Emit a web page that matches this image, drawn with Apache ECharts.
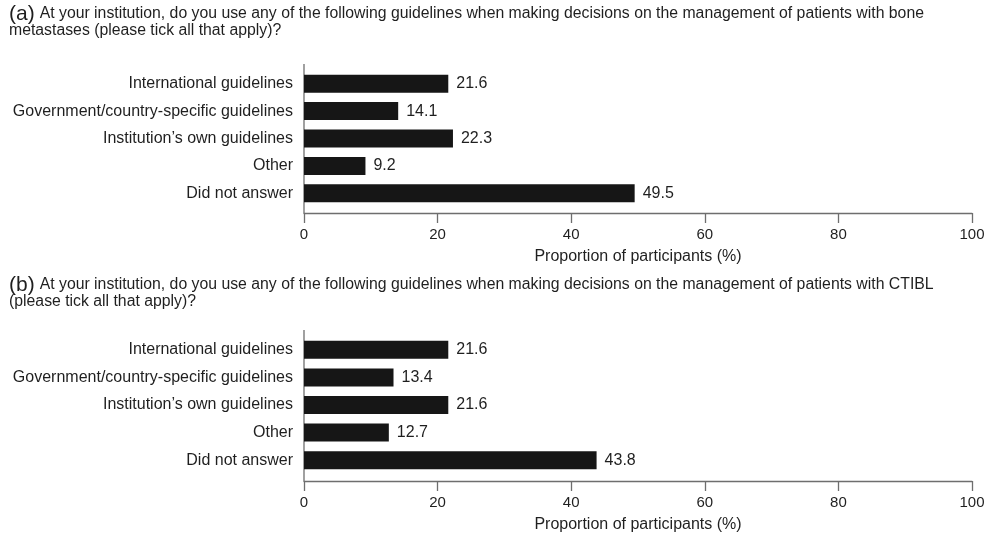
<!DOCTYPE html>
<html>
<head>
<meta charset="utf-8">
<script src="https://cdn.jsdelivr.net/npm/echarts@6/dist/echarts.min.js"></script>
<style>
  html, body { margin: 0; padding: 0; background: #fff; }
  #chart { width: 988px; height: 534px; }
</style>
</head>
<body>
<div id="chart"></div>
<script>
// Survey answers: guidelines used for decision making
const categories = [
  'International guidelines',
  'Government/country-specific guidelines',
  'Institution\u2019s own guidelines',
  'Other',
  'Did not answer'
];
const valuesBoneMets = [21.6, 14.1, 22.3, 9.2, 49.5];
const valuesCTIBL = [21.6, 13.4, 21.6, 12.7, 43.8];
const axisMin = 0;
const axisMax = 100;
const axisStep = 20;
const axisTitle = 'Proportion of participants (%)';
const questionA = ['At your institution, do you use any of the following guidelines when making decisions on the management of patients with bone', 'metastases (please tick all that apply)?'];
const questionB = ['At your institution, do you use any of the following guidelines when making decisions on the management of patients with CTIBL', '(please tick all that apply)?'];

const FONT = '"Liberation Sans", Arial, sans-serif';
const TEXT = '#1f1f1f';
const AXIS = '#6e6e6e';
const BAR = '#161616';

const GRID_LEFT = 304, GRID_RIGHT = 16;
const panels = [
  { top: 70, height: 137, offset: 6, values: valuesBoneMets, letter: '(a)', q: questionA, titleTop: 5 },
  { top: 336, height: 138, offset: 7, values: valuesCTIBL, letter: '(b)', q: questionB, titleTop: 276 }
];

const chart = echarts.init(document.getElementById('chart'), null, { renderer: 'canvas' });

const option = {
  animation: false,
  backgroundColor: '#fff',
  textStyle: { fontFamily: FONT, color: TEXT },
  title: panels.map(p => ({
    left: 9,
    top: p.titleTop,
    padding: 0,
    text: '{p|' + p.letter + '} {t|' + p.q[0] + '}\n{t|' + p.q[1] + '}',
    textStyle: {
      fontFamily: FONT,
      fontWeight: 'normal',
      rich: {
        p: { fontSize: 21, color: TEXT, fontFamily: FONT, fontWeight: 'normal', lineHeight: 16 },
        t: { fontSize: 15.8, color: TEXT, fontFamily: FONT, fontWeight: 'normal', lineHeight: 16 }
      }
    }
  })),
  grid: panels.map(p => ({ left: GRID_LEFT, right: GRID_RIGHT, top: p.top, height: p.height })),
  xAxis: panels.map((p, i) => ({
    type: 'value',
    gridIndex: i,
    min: axisMin,
    max: axisMax,
    interval: axisStep,
    offset: p.offset,
    name: axisTitle,
    nameLocation: 'middle',
    nameGap: 36,
    nameTextStyle: { fontSize: 16, color: TEXT, fontFamily: FONT },
    axisLine: { show: true, lineStyle: { color: AXIS, width: 1.3 } },
    axisTick: { show: true, length: 10, inside: false, lineStyle: { color: AXIS, width: 1.3 } },
    axisLabel: { fontSize: 15, color: TEXT, margin: 14, fontFamily: FONT },
    splitLine: { show: false }
  })),
  yAxis: panels.map((p, i) => ({
    type: 'category',
    gridIndex: i,
    data: categories,
    inverse: true,
    axisLine: { show: false },
    axisTick: { show: false },
    axisLabel: { fontSize: 16, color: TEXT, margin: 11, fontFamily: FONT }
  })),
  series: panels.map((p, i) => ({
    type: 'bar',
    xAxisIndex: i,
    yAxisIndex: i,
    data: p.values,
    barWidth: 18,
    itemStyle: { color: BAR },
    label: {
      show: true,
      position: 'right',
      distance: 8,
      fontSize: 16,
      color: TEXT,
      fontFamily: FONT,
      formatter: d => d.value.toFixed(1)
    }
  })),
  // Left axis spine, running a little past the bars on both ends
  graphic: panels.map(p => ({
    type: 'line',
    shape: { x1: GRID_LEFT, y1: p.top - 6, x2: GRID_LEFT, y2: p.top + p.height + p.offset },
    style: { stroke: AXIS, lineWidth: 1.3 },
    silent: true
  }))
};

chart.setOption(option);
</script>
</body>
</html>
